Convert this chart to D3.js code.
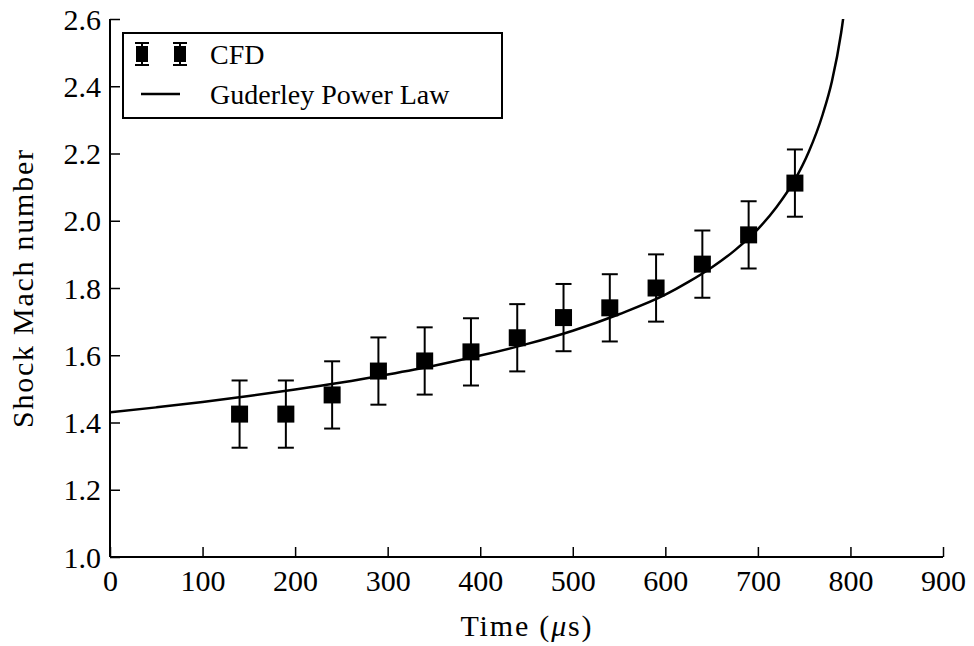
<!DOCTYPE html>
<html>
<head>
<meta charset="utf-8">
<script src="https://cdn.jsdelivr.net/npm/d3@7"></script>
<style>
  html, body { margin: 0; padding: 0; background: #fff; }
</style>
</head>
<body>
<svg id="chart" width="974" height="646"></svg>
<script>
// ---- data ----
const cfdTime = [140, 190, 240, 290, 340, 390, 440, 490, 540, 590, 640, 690, 740];
const cfdMach = [1.425, 1.425, 1.482, 1.553, 1.583, 1.610, 1.652, 1.712, 1.741, 1.800, 1.871, 1.958, 2.112];
const cfdErr  = [0.1, 0.1, 0.1, 0.1, 0.1, 0.1, 0.1, 0.1, 0.1, 0.1, 0.1, 0.1, 0.1];

const lawTime = [0, 50, 100, 150, 200, 250, 300, 350, 400, 450, 500, 550, 600, 625, 650, 675, 700, 720, 740, 755, 770, 780, 790, 795];
const lawMach = [1.430, 1.445, 1.461, 1.479, 1.498, 1.519, 1.543, 1.569, 1.599, 1.633, 1.673, 1.722, 1.780, 1.818, 1.861, 1.912, 1.975, 2.040, 2.122, 2.205, 2.316, 2.415, 2.560, 2.66];

const xTicks = [0, 100, 200, 300, 400, 500, 600, 700, 800, 900];
const yTicks = [1.0, 1.2, 1.4, 1.6, 1.8, 2.0, 2.2, 2.4, 2.6];

// ---- layout ----
const FONT = '"Liberation Serif"';
const svg = d3.select("#chart").style("font-family", FONT);
const pL = 110, pR = 943, pT = 19, pB = 557;
const x = d3.scaleLinear().domain([0, 900]).range([pL, pR]);
const y = d3.scaleLinear().domain([1.0, 2.6]).range([pB, pT]);
const tickFont = 30, labelFont = 30, legendFont = 28;

svg.append("defs").append("clipPath").attr("id", "plotclip")
  .append("rect").attr("x", pL).attr("y", pT).attr("width", pR - pL).attr("height", pB - pT);

// ---- axes ----
const xAxis = d3.axisBottom(x).tickValues(xTicks).tickSize(-10).tickPadding(13).tickFormat(d3.format("d"));
const yAxis = d3.axisLeft(y).tickValues(yTicks).tickSize(-10).tickPadding(9).tickFormat(d3.format(".1f"));

const gx = svg.append("g").attr("transform", `translate(0,${pB})`).call(xAxis);
const gy = svg.append("g").attr("transform", `translate(${pL},0)`).call(yAxis);
gx.select(".domain").attr("stroke", "#000").attr("stroke-width", 2).attr("d", `M${pL},0H${pR}`);
gy.select(".domain").attr("stroke", "#000").attr("stroke-width", 2).attr("d", `M0,${pB}V${pT}`);
[gx, gy].forEach(g => {
  g.attr("font-family", null).attr("font-size", null);
  g.selectAll(".tick line").attr("stroke", "#000").attr("stroke-width", 1.5);
  g.selectAll(".tick text").style("font-family", FONT).style("font-size", tickFont + "px").attr("fill", "#000");
});
gx.selectAll(".tick text").attr("dy", "0.71em");
gy.selectAll(".tick text").attr("dy", "0.34em");

// axis labels
const xl = svg.append("text").attr("x", 526).attr("y", 636)
  .attr("text-anchor", "middle").style("font-family", FONT).style("font-size", labelFont + "px")
  .attr("textLength", 131).attr("lengthAdjust", "spacing");
xl.append("tspan").text("Time (");
xl.append("tspan").attr("font-style", "italic").text("μ");
xl.append("tspan").text("s)");

svg.append("text").attr("transform", `translate(33,289) rotate(-90)`)
  .attr("text-anchor", "middle").style("font-family", FONT).style("font-size", labelFont + "px")
  .attr("textLength", 278).attr("lengthAdjust", "spacing")
  .text("Shock Mach number");

// ---- Guderley power law line ----
const lawData = lawTime.map((t, i) => ({ t, m: lawMach[i] }));
svg.append("path").datum(lawData)
  .attr("clip-path", "url(#plotclip)")
  .attr("fill", "none").attr("stroke", "#000").attr("stroke-width", 2.5)
  .attr("d", d3.line().x(d => x(d.t)).y(d => y(d.m)).curve(d3.curveMonotoneX));

// ---- CFD points with error bars ----
const cfd = cfdTime.map((t, i) => ({ t, m: cfdMach[i], e: cfdErr[i] }));
const pts = svg.append("g");
const capW = 16, sq = 17;
const eb = pts.selectAll("g.eb").data(cfd).enter().append("g");
eb.append("line").attr("x1", d => x(d.t)).attr("x2", d => x(d.t))
  .attr("y1", d => y(d.m - d.e)).attr("y2", d => y(d.m + d.e))
  .attr("stroke", "#000").attr("stroke-width", 2);
eb.append("line").attr("x1", d => x(d.t) - capW / 2).attr("x2", d => x(d.t) + capW / 2)
  .attr("y1", d => y(d.m + d.e)).attr("y2", d => y(d.m + d.e))
  .attr("stroke", "#000").attr("stroke-width", 2);
eb.append("line").attr("x1", d => x(d.t) - capW / 2).attr("x2", d => x(d.t) + capW / 2)
  .attr("y1", d => y(d.m - d.e)).attr("y2", d => y(d.m - d.e))
  .attr("stroke", "#000").attr("stroke-width", 2);
eb.append("rect").attr("x", d => x(d.t) - sq / 2).attr("y", d => y(d.m) - sq / 2)
  .attr("width", sq).attr("height", sq).attr("fill", "#000");

// ---- legend ----
const lg = svg.append("g");
lg.append("rect").attr("x", 123).attr("y", 33).attr("width", 379).attr("height", 85)
  .attr("fill", "#fff").attr("stroke", "#000").attr("stroke-width", 2);
[142, 180].forEach(cx => {
  lg.append("line").attr("x1", cx).attr("x2", cx).attr("y1", 43).attr("y2", 65)
    .attr("stroke", "#000").attr("stroke-width", 2);
  lg.append("line").attr("x1", cx - 7).attr("x2", cx + 7).attr("y1", 43).attr("y2", 43)
    .attr("stroke", "#000").attr("stroke-width", 2);
  lg.append("line").attr("x1", cx - 7).attr("x2", cx + 7).attr("y1", 65).attr("y2", 65)
    .attr("stroke", "#000").attr("stroke-width", 2);
  lg.append("rect").attr("x", cx - 6).attr("y", 46).attr("width", 12).attr("height", 16).attr("fill", "#000");
});
lg.append("text").attr("x", 210).attr("y", 54).attr("dy", "0.35em")
  .style("font-family", FONT).style("font-size", legendFont + "px").text("CFD");
lg.append("line").attr("x1", 141).attr("x2", 180).attr("y1", 94).attr("y2", 94)
  .attr("stroke", "#000").attr("stroke-width", 2.5);
lg.append("text").attr("x", 210).attr("y", 94).attr("dy", "0.35em")
  .style("font-family", FONT).style("font-size", legendFont + "px").text("Guderley Power Law");
</script>
</body>
</html>
